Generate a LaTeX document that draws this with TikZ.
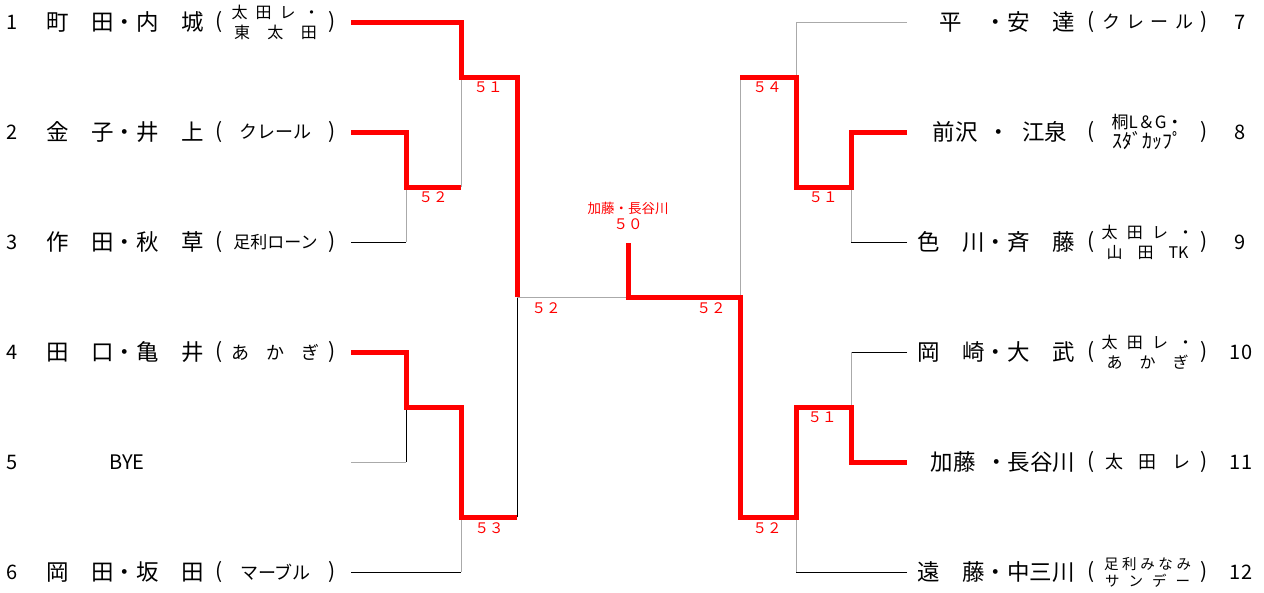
\documentclass[tikz,border=0pt]{standalone}
\usepackage{fontspec}
\setmainfont{Noto Sans CJK JP}
\definecolor{winred}{RGB}{255,0,0}
\definecolor{linegray}{RGB}{170,170,170}

\begin{document}
\begin{tikzpicture}[x=1pt,y=-1pt,
    every node/.style={inner sep=0pt},
    num/.style={font=\fontsize{20}{22}\selectfont},
    nm/.style={font=\fontsize{22.5}{26}\selectfont},
    club/.style={minimum width=105pt,align=center,
      font=\fontsize{18}{20}\selectfont,
      label={[font=\fontsize{21}{22}\selectfont]180:(},
      label={[font=\fontsize{21}{22}\selectfont]0:)}},
    two/.style={font=\fontsize{16}{20}\selectfont},
    score/.style={text=winred,font=\fontsize{14.5}{16}\selectfont},
    win/.style={winred,line width=5pt},
    lose/.style={black,line width=1pt},
    thin/.style={linegray,line width=1pt}]
  \useasboundingbox (0,0) rectangle (1264,592);

  % entries, left side
  \node[num] (n1) at (12,22) {1};
  \node[nm] (p1) at (125,22) {町　田・内　城};
  \node[club,two] (c1) at (275.5,22)
    {\makebox[88pt][s]{太\hfill 田\hfill レ\hfill ・}\\\makebox[83pt][s]{東\hfill 太\hfill 田}};
  \node[num] (n2) at (12,132) {2};
  \node[nm] (p2) at (125,132) {金　子・井　上};
  \node[club] (c2) at (275.5,132) {クレール};
  \node[num] (n3) at (12,242) {3};
  \node[nm] (p3) at (125,242) {作　田・秋　草};
  \node[club,font=\fontsize{17}{20}\selectfont] (c3) at (275.5,242) {足利ローン};
  \node[num] (n4) at (12,352) {4};
  \node[nm] (p4) at (125,352) {田　口・亀　井};
  \node[club] (c4) at (275.5,352) {\makebox[88pt][s]{あ\hfill か\hfill ぎ}};
  \node[num] (n5) at (12,462) {5};
  \node[num] (p5) at (127,462) {BYE};
  \node[num] (n6) at (12,572) {6};
  \node[nm] (p6) at (125,572) {岡　田・坂　田};
  \node[club] (c6) at (275.5,572) {マーブル};

  % entries, right side
  \node[nm] (p7) at (996,22) {　平　・安　達};
  \node[club] (c7) at (1147.5,22) {\makebox[91pt][s]{ク\hfill レ\hfill ー\hfill ル}};
  \node[num] (n7) at (1240,22) {7};
  \node[nm] (p8) at (1000,132) {前沢\hspace{9.5pt}・\hspace{12.5pt}江泉};
  \node[club] (c8) at (1147.5,132)
    {{\fontsize{17}{20}\selectfont 桐L＆G・}\\{\fontsize{20}{20}\selectfont ｽﾀﾞｶｯﾌﾟ}};
  \node[num] (n8) at (1240,132) {8};
  \node[nm] (p9) at (996,242) {色　川・斉　藤};
  \node[club,two] (c9) at (1147.5,242)
    {\makebox[92pt][s]{太\hfill 田\hfill レ\hfill ・}\\\makebox[82pt][s]{山\hfill 田\hfill TK}};
  \node[num] (n9) at (1240,242) {9};
  \node[nm] (p10) at (996,352) {岡　崎・大　武};
  \node[club,two] (c10) at (1147.5,352)
    {\makebox[92pt][s]{太\hfill 田\hfill レ\hfill ・}\\\makebox[82pt][s]{あ\hfill か\hfill ぎ}};
  \node[num] (n10) at (1241,352) {10};
  \node[nm] (p11) at (1003,462) {加藤\hspace{9.5pt}・長谷川};
  \node[club] (c11) at (1147.5,462) {\makebox[85pt][s]{太\hfill 田\hfill レ}};
  \node[num] (n11) at (1241,462) {11};
  \node[nm] (p12) at (996,572) {遠　藤・中三川};
  \node[club,font=\fontsize{14.5}{17}\selectfont] (c12) at (1147.5,572)
    {\makebox[87pt][s]{足\hfill 利\hfill み\hfill な\hfill み}\\\makebox[85pt][s]{サ\hfill ン\hfill デ\hfill ー}};
  \node[num] (n12) at (1241,572) {12};

  % line ends and match points
  \coordinate (L1) at (351,22);  \coordinate (L2) at (351,132);
  \coordinate (L3) at (351,242); \coordinate (L4) at (351,352);
  \coordinate (L5) at (351,462); \coordinate (L6) at (351,572);
  \coordinate (R7) at (907,22);  \coordinate (R8) at (907,132);
  \coordinate (R9) at (907,242); \coordinate (R10) at (907,352);
  \coordinate (R11) at (907,462); \coordinate (R12) at (907,572);
  \coordinate (A) at (406,187);  \coordinate (B) at (461,77);
  \coordinate (C) at (406,407);  \coordinate (D) at (461,517);
  \coordinate (S1) at (517,297); \coordinate (F) at (628,297);
  \coordinate (S2) at (740,297); \coordinate (top) at (628,243);
  \coordinate (E) at (851,187);  \coordinate (G) at (796,77);
  \coordinate (H) at (851,407);  \coordinate (I) at (796,517);

  % losing lines
  \draw[thin] (A -| B) -- (B);
  \draw[lose] (L3) -- (L3 -| A);
  \draw[thin] (L3 -| A) -- (A);
  \draw[thin] (L5) -- (L5 -| C);
  \draw[lose] (L5 -| C) -- (C);
  \draw[lose] (L6) -- (L6 -| D);
  \draw[thin] (L6 -| D) -- (D);
  \draw[lose] (D -| S1) -- (S1);
  \draw[thin] (S1) -- (F);
  \draw[thin] (R7) -| (G);
  \draw[thin] (G -| S2) -- (S2);
  \draw[lose] (R9) -- (R9 -| E);
  \draw[thin] (R9 -| E) -- (E);
  \draw[lose] (R10) -- (R10 -| H);
  \draw[thin] (R10 -| H) -- (H);
  \draw[lose] (R12) -- (R12 -| I);
  \draw[thin] (R12 -| I) -- (I);

  % winning lines
  \draw[win] (L2) -| (A) -- (A -| B);
  \draw[win] (L1) -| (B) -- (B -| S1) -- (S1);
  \draw[win] (L4) -| (C) -- (C -| D) -- (D) -- (D -| S1);
  \draw[win] (R8) -| (E) -- (E -| G) -- (G) -- (G -| S2);
  \draw[win] (top) -- (F) -- (S2) -- (S2 |- I) -- (I) -- (I |- H)
    -- (H) -- (H |- R11) -- (R11);

  % scores
  \node[score] (sA) at (433,197) {５２};
  \node[score] (sB) at (488,87) {５１};
  \node[score] (sD) at (489,528) {５３};
  \node[score] (sS1) at (546,308) {５２};
  \node[score] (sS2) at (711,308) {５２};
  \node[score] (sG) at (767,87) {５４};
  \node[score] (sE) at (823,197) {５１};
  \node[score] (sH) at (822,417) {５１};
  \node[score] (sI) at (767,528) {５２};
  \node[score,font=\fontsize{13.5}{15}\selectfont] (champ) at (628,208) {加藤・長谷川};
  \node[score] (sF) at (628,224) {５０};
\end{tikzpicture}
\end{document}
